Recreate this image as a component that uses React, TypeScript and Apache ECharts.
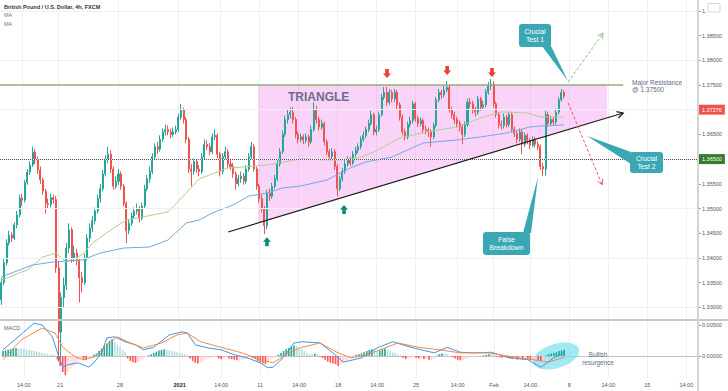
import { useEffect, useRef } from "react";
import * as echarts from "echarts";

// ---- price data (4h bars, GBP/USD) ----
const firstOpen = 1.3315;
const closes = [
  1.3350, 1.3390, 1.3430, 1.3446, 1.3440, 1.3467, 1.3487, 1.3521, 1.3517, 1.3552,
  1.3574, 1.3588, 1.3614, 1.3598, 1.3578, 1.3558, 1.3535, 1.3510, 1.3508, 1.3522,
  1.3518, 1.3380, 1.3250, 1.3320, 1.3345, 1.3420, 1.3457, 1.3400, 1.3410, 1.3395,
  1.3360, 1.3350, 1.3400, 1.3440, 1.3460, 1.3475, 1.3495, 1.3520, 1.3540, 1.3570,
  1.3600, 1.3610, 1.3580, 1.3545, 1.3555, 1.3570, 1.3545, 1.3510, 1.3455, 1.3470,
  1.3485, 1.3495, 1.3500, 1.3480, 1.3505, 1.3540, 1.3560, 1.3575, 1.3605, 1.3625,
  1.3620, 1.3640, 1.3655, 1.3660, 1.3655, 1.3650, 1.3655, 1.3660, 1.3685, 1.3700,
  1.3680, 1.3640, 1.3580, 1.3575, 1.3595, 1.3580, 1.3575, 1.3605, 1.3630, 1.3625,
  1.3615, 1.3645, 1.3648, 1.3610, 1.3575, 1.3605, 1.3615, 1.3590, 1.3585, 1.3570,
  1.3550, 1.3560, 1.3565, 1.3555, 1.3580, 1.3605, 1.3625, 1.3580, 1.3545, 1.3520,
  1.3500, 1.3465, 1.3530, 1.3525, 1.3545, 1.3560, 1.3590, 1.3615, 1.3650, 1.3680,
  1.3690, 1.3695, 1.3680, 1.3650, 1.3640, 1.3645, 1.3638, 1.3645, 1.3635, 1.3660,
  1.3700, 1.3680, 1.3665, 1.3672, 1.3635, 1.3615, 1.3605, 1.3615, 1.3585, 1.3540,
  1.3560, 1.3575, 1.3590, 1.3598, 1.3592, 1.3610, 1.3618, 1.3625, 1.3640, 1.3648,
  1.3660, 1.3672, 1.3690, 1.3655, 1.3660, 1.3690, 1.3725, 1.3735, 1.3715, 1.3735,
  1.3722, 1.3735, 1.3710, 1.3685, 1.3655, 1.3645, 1.3670, 1.3678, 1.3712, 1.3682,
  1.3672, 1.3678, 1.3660, 1.3658, 1.3655, 1.3645, 1.3668, 1.3720, 1.3735, 1.3730,
  1.3740, 1.3745, 1.3700, 1.3690, 1.3680, 1.3672, 1.3665, 1.3650, 1.3670, 1.3715,
  1.3712, 1.3700, 1.3695, 1.3722, 1.3705, 1.3710, 1.3735, 1.3748, 1.3752, 1.3712,
  1.3690, 1.3670, 1.3668, 1.3685, 1.3670, 1.3690, 1.3660, 1.3652, 1.3640, 1.3655,
  1.3630, 1.3648, 1.3638, 1.3628, 1.3640, 1.3630, 1.3625, 1.3585, 1.3580, 1.3690,
  1.3672, 1.3680, 1.3675, 1.3695, 1.3720, 1.3735, 1.37276,
];
const highs = [
  1.3360, 1.3400, 1.3438, 1.3455, 1.3452, 1.3472, 1.3495, 1.3528, 1.3530, 1.3558,
  1.3580, 1.3596, 1.3625, 1.3620, 1.3605, 1.3585, 1.3562, 1.3540, 1.3520, 1.3530,
  1.3528, 1.3525, 1.3392, 1.3330, 1.3360, 1.3430, 1.3470, 1.3462, 1.3425, 1.3418,
  1.3400, 1.3372, 1.3408, 1.3448, 1.3470, 1.3485, 1.3502, 1.3528, 1.3550, 1.3578,
  1.3608, 1.3625, 1.3618, 1.3585, 1.3565, 1.3580, 1.3575, 1.3550, 1.3515, 1.3478,
  1.3492, 1.3502, 1.3510, 1.3505, 1.3512, 1.3548, 1.3568, 1.3585, 1.3612, 1.3632,
  1.3635, 1.3648, 1.3662, 1.3670, 1.3668, 1.3662, 1.3664, 1.3668, 1.3692, 1.3712,
  1.3704, 1.3685, 1.3645, 1.3590, 1.3602, 1.3600, 1.3588, 1.3612, 1.3640, 1.3638,
  1.3632, 1.3652, 1.3660, 1.3652, 1.3615, 1.3612, 1.3625, 1.3620, 1.3598, 1.3592,
  1.3575, 1.3568, 1.3575, 1.3572, 1.3588, 1.3612, 1.3635, 1.3630, 1.3585, 1.3550,
  1.3528, 1.3505, 1.3538, 1.3540, 1.3552, 1.3568, 1.3598, 1.3622, 1.3658, 1.3688,
  1.3700, 1.3704, 1.3706, 1.3685, 1.3656, 1.3652, 1.3650, 1.3652, 1.3650, 1.3668,
  1.3715, 1.3708, 1.3686, 1.3680, 1.3676, 1.3640, 1.3620, 1.3622, 1.3620, 1.3590,
  1.3566, 1.3582, 1.3598, 1.3606, 1.3605, 1.3616, 1.3625, 1.3632, 1.3646, 1.3656,
  1.3666, 1.3680, 1.3698, 1.3694, 1.3668, 1.3696, 1.3732, 1.3746, 1.3746, 1.3742,
  1.3740, 1.3742, 1.3740, 1.3715, 1.3690, 1.3662, 1.3676, 1.3686, 1.3718, 1.3716,
  1.3688, 1.3685, 1.3682, 1.3668, 1.3664, 1.3660, 1.3674, 1.3726, 1.3742, 1.3740,
  1.3748, 1.3758, 1.3750, 1.3706, 1.3696, 1.3686, 1.3678, 1.3670, 1.3676, 1.3722,
  1.3724, 1.3718, 1.3706, 1.3728, 1.3726, 1.3718, 1.3742, 1.3756, 1.3762, 1.3758,
  1.3716, 1.3695, 1.3678, 1.3692, 1.3690, 1.3696, 1.3694, 1.3666, 1.3658, 1.3662,
  1.3660, 1.3654, 1.3652, 1.3642, 1.3646, 1.3645, 1.3636, 1.3630, 1.3592, 1.3698,
  1.3696, 1.3688, 1.3686, 1.3702, 1.3726, 1.3742, 1.3740,
];
const lows = [
  1.3305, 1.3345, 1.3385, 1.3425, 1.3432, 1.3436, 1.3460, 1.3482, 1.3505, 1.3512,
  1.3548, 1.3568, 1.3584, 1.3590, 1.3570, 1.3550, 1.3528, 1.3490, 1.3500, 1.3502,
  1.3510, 1.3370, 1.3190, 1.3200, 1.3300, 1.3335, 1.3410, 1.3390, 1.3392, 1.3385,
  1.3310, 1.3330, 1.3345, 1.3395, 1.3432, 1.3452, 1.3468, 1.3490, 1.3512, 1.3535,
  1.3565, 1.3592, 1.3572, 1.3538, 1.3540, 1.3548, 1.3538, 1.3505, 1.3430, 1.3448,
  1.3465, 1.3480, 1.3488, 1.3472, 1.3476, 1.3500, 1.3535, 1.3552, 1.3570, 1.3600,
  1.3610, 1.3615, 1.3635, 1.3648, 1.3648, 1.3642, 1.3645, 1.3650, 1.3655, 1.3680,
  1.3672, 1.3632, 1.3572, 1.3545, 1.3568, 1.3572, 1.3565, 1.3570, 1.3600, 1.3618,
  1.3608, 1.3610, 1.3638, 1.3602, 1.3565, 1.3570, 1.3598, 1.3582, 1.3578, 1.3562,
  1.3538, 1.3545, 1.3552, 1.3548, 1.3550, 1.3575, 1.3600, 1.3575, 1.3538, 1.3512,
  1.3492, 1.3448, 1.3458, 1.3515, 1.3520, 1.3540, 1.3555, 1.3585, 1.3610, 1.3645,
  1.3672, 1.3682, 1.3672, 1.3642, 1.3632, 1.3634, 1.3630, 1.3632, 1.3625, 1.3630,
  1.3655, 1.3672, 1.3658, 1.3660, 1.3628, 1.3608, 1.3598, 1.3600, 1.3578, 1.3525,
  1.3535, 1.3555, 1.3570, 1.3585, 1.3586, 1.3588, 1.3604, 1.3612, 1.3620, 1.3635,
  1.3642, 1.3655, 1.3668, 1.3648, 1.3648, 1.3655, 1.3686, 1.3720, 1.3708, 1.3710,
  1.3715, 1.3716, 1.3702, 1.3678, 1.3648, 1.3638, 1.3640, 1.3664, 1.3672, 1.3676,
  1.3665, 1.3666, 1.3652, 1.3650, 1.3645, 1.3625, 1.3640, 1.3664, 1.3715, 1.3722,
  1.3725, 1.3735, 1.3694, 1.3682, 1.3672, 1.3664, 1.3656, 1.3630, 1.3645, 1.3665,
  1.3704, 1.3692, 1.3686, 1.3690, 1.3698, 1.3700, 1.3705, 1.3730, 1.3740, 1.3705,
  1.3684, 1.3662, 1.3660, 1.3662, 1.3664, 1.3665, 1.3654, 1.3645, 1.3632, 1.3635,
  1.3610, 1.3625, 1.3630, 1.3620, 1.3624, 1.3624, 1.3618, 1.3578, 1.3566, 1.3566,
  1.3665, 1.3668, 1.3668, 1.3670, 1.3690, 1.3716, 1.3722,
];
const lastPrice = 1.37276;
const resistanceLevel = 1.375;
const supportLevel = 1.365;

// ---- moving averages, read at points along the lines [bar, price] ----
const maFast: [number, number][] = [
  [0, 1.33553], [10, 1.33756], [16, 1.34019], [21, 1.341], [25, 1.33918], [31, 1.34059],
  [35, 1.34302], [42, 1.34565], [48, 1.34768], [54, 1.34828], [64, 1.3493], [71, 1.35314],
  [76, 1.35598], [87, 1.3582], [93, 1.3584], [102, 1.35881], [115, 1.36002], [125, 1.35982],
  [130, 1.35982], [137, 1.36022], [143, 1.36144], [153, 1.36427], [163, 1.36549],
  [175, 1.3665], [185, 1.36852], [192, 1.36954], [202, 1.36933], [207, 1.36852], [216, 1.36852],
];
const maSlow: [number, number][] = [
  [0, 1.33614], [12, 1.33857], [20, 1.33918], [31, 1.33958], [38, 1.341], [47, 1.34201],
  [57, 1.34221], [64, 1.34363], [71, 1.34707], [76, 1.34768], [81, 1.34909], [89, 1.35071],
  [95, 1.35253], [102, 1.35314], [108, 1.35415], [115, 1.35456], [125, 1.35577],
  [134, 1.3582], [140, 1.35942], [150, 1.36043], [162, 1.36326], [175, 1.36387],
  [184, 1.36448], [194, 1.36528], [203, 1.3665], [207, 1.3667], [216, 1.3669],
];

// ---- MACD panel ----
const macdLine: [number, number][] = [
  [0, 0.001], [12, 0.0053], [15, 0.005], [19, 0.0031], [21, 0.0005], [23, -0.0018], [25, -0.0014],
  [29, -0.0011], [33, -0.0018], [35, -0.0011], [38, 0.0006], [40, 0.0029], [43, 0.0031],
  [47, 0.0023], [51, 0.0018], [54, 0.001], [58, 0.0014], [64, 0.0034], [69, 0.0039], [71, 0.0037],
  [74, 0.0018], [79, 0.0013], [84, 0.001], [89, 0.0002], [94, -0.0003], [99, -0.0011],
  [102, -0.0019], [104, -0.0018], [108, -0.0002], [112, 0.0021], [115, 0.0023], [122, 0.0021],
  [127, 0.0005], [131, -0.001], [138, -0.0003], [144, 0.0013], [150, 0.0023], [157, 0.0014],
  [166, 0.0005], [171, 0.0014], [176, 0.0006], [181, 0.0005], [188, 0.0006], [194, -0.0002],
  [202, -0.0006], [207, -0.0018], [212, -0.0003], [216, 0.0006],
];
const signalLine: [number, number][] = [
  [0, -0.0006], [7, 0.0026], [15, 0.0045], [20, 0.0037], [23, 0.0014], [28, -0.0002], [31, -0.0006],
  [35, -0.0002], [40, 0.0018], [44, 0.0031], [48, 0.0023], [54, 0.0013], [61, 0.0021], [67, 0.0034],
  [71, 0.0037], [76, 0.0023], [84, 0.0014], [92, 0.0005], [99, -0.0006], [104, -0.0011],
  [110, 0.0005], [115, 0.0014], [122, 0.0021], [129, 0.0005], [134, -0.0003], [140, 0.0002],
  [147, 0.0013], [152, 0.0021], [160, 0.0014], [168, 0.001], [176, 0.0005], [187, 0.0005],
  [197, -0.0002], [204, -0.0006], [210, -0.001], [216, -0.0002],
];
const histogram = [
  0.0008, 0.0009, 0.0010, 0.0011, 0.0012, 0.0013,
  0.0012, 0.0012, 0.0011, 0.0011, 0.0010, 0.0009, 0.0008, 0.0007, 0.0006, 0.0005, 0.0004,
  0.0003, 0.0002, 0.0002, 0.0001,
  -0.0006, -0.0016, -0.0026, -0.0031,
  -0.0025, -0.0020, -0.0016, -0.0012, -0.0008, -0.0004, -0.0006, -0.0007, -0.0004, -0.0001, 0.0002,
  0.0004, 0.0008, 0.0012, 0.0016, 0.0020, 0.0024, 0.0027,
  0.0022, 0.0018, 0.0014, 0.0010, 0.0006,
  -0.0004, -0.0008, -0.0010, -0.0011, -0.0010, -0.0008,
  -0.0005, -0.0002, 0.0001,
  0.0003, 0.0005, 0.0007, 0.0009, 0.0010, 0.0011,
  0.0010, 0.0009, 0.0008, 0.0007, 0.0006, 0.0005, 0.0004, 0.0003, 0.0001,
  -0.0004, -0.0008, -0.0011, -0.0012, -0.0011, -0.0009,
  -0.0006, -0.0004, -0.0003, -0.0002, -0.0002, -0.0004,
  -0.0005, -0.0004, -0.0003,
  -0.0004, -0.0005, -0.0006, -0.0007, -0.0007,
  -0.0006, -0.0005, -0.0004, -0.0002,
  -0.0003, -0.0005, -0.0008, -0.0010, -0.0012, -0.0013,
  -0.0010, -0.0006, -0.0003, -0.0001,
  0.0002, 0.0005, 0.0008, 0.0011, 0.0013, 0.0015, 0.0017, 0.0016, 0.0014,
  0.0011, 0.0008, 0.0005, 0.0003, 0.0003, 0.0004, 0.0003,
  -0.0001, -0.0003, -0.0006, -0.0009, -0.0011, -0.0012, -0.0013, -0.0016, -0.0014,
  -0.0011, -0.0008, -0.0006, -0.0004, -0.0002,
  0.0002, 0.0003, 0.0004, 0.0006, 0.0008, 0.0010, 0.0011, 0.0009, 0.0008, 0.0009, 0.0011, 0.0012, 0.0010,
  0.0008, 0.0006, 0.0005, 0.0003, 0.0001,
  -0.0003, -0.0005, -0.0004, -0.0003,
  -0.0002, -0.0003, -0.0004, -0.0004, -0.0005, -0.0005, -0.0006, -0.0006, -0.0004,
  0.0001, 0.0003, 0.0004, 0.0004, 0.0003, 0.0001,
  -0.0002, -0.0004, -0.0006, -0.0007, -0.0007,
  -0.0005, -0.0003, -0.0002, -0.0002, -0.0001, -0.0001, 0.0000,
  0.0001, 0.0002, 0.0003, 0.0003, 0.0002,
  -0.0001, -0.0002, -0.0003, -0.0002,
  -0.0003, -0.0004, -0.0005, -0.0005, -0.0006,
  -0.0005, -0.0006, -0.0005, -0.0006, -0.0007, -0.0006, -0.0006, -0.0007, -0.0008, -0.0008,
  0.0001, 0.0003, 0.0004, 0.0005, 0.0006, 0.0008, 0.0009, 0.0010,
];

// ---- axes ----
const slotCount = 268;
const xTickLabels: [number, string][] = [
  [8, "14:00"], [22, "21"], [45, "28"], [68, "2021"], [84, "14:00"], [99, "11"],
  [114, "14:00"], [129, "18"], [144, "14:00"], [159, "25"], [175, "14:00"], [189, "Feb"],
  [203, "14:00"], [218, "8"], [233, "14:00"], [248, "15"], [263, "14:00"],
];
const priceTicks = [1.33, 1.335, 1.34, 1.345, 1.35, 1.355, 1.36, 1.365, 1.37, 1.375, 1.38, 1.385, 1.39];
const macdTicks = [0, 0.005];
const topTickShown = "1."; // the 1.39000 label is mostly hidden behind the currency badge

// ---- drawings, in data coordinates [bar, price] ----
const trendLine = { from: [87.1, 1.34525], to: [238.8, 1.36933] };
const triangleSpan = [98.6, 232.6];
const resistanceEnd = 238.8;
const topMarkers = [[148.1, 1.3764], [171.2, 1.377], [188.4, 1.3766]];
const bottomMarkers = [[102, 1.3442], [131.6, 1.3507]];
const bullPath = [[217.6, 1.3756], [231.1, 1.3855]];
const bearPath = [[217.6, 1.3714], [230.7, 1.3548]];

const FONT = "Liberation Sans";

export default function App() {
  const ref = useRef<HTMLDivElement>(null);
  useEffect(() => {
    if (!ref.current) return;
    const chart = echarts.init(ref.current, undefined, { renderer: "svg" });
    const slots = Array.from({ length: slotCount }, (_, i) => String(i));
    const labelMap = new Map(xTickLabels);
    const candles = closes.map((c, i) => [i === 0 ? firstOpen : closes[i - 1], c, lows[i], highs[i]]);
    const gridSplit = {
      show: true,
      alignWithLabel: true,
      interval: (i: number) => labelMap.has(i),
      lineStyle: { color: "#eef0f4", width: 1 },
    };

    const option: any = {
      animation: false,
      textStyle: { fontFamily: FONT },
      grid: [
        { left: 0, top: 0, width: 698, height: 319 },
        { left: 0, top: 321, width: 698, height: 57 },
      ],
      xAxis: [
        {
          type: "category", gridIndex: 0, data: slots, boundaryGap: true,
          axisLine: { show: false }, axisTick: { show: false }, axisLabel: { show: false },
          splitLine: gridSplit,
        },
        {
          type: "category", gridIndex: 1, data: slots, boundaryGap: true,
          axisLine: { show: true, lineStyle: { color: "#c4c4c4", width: 1 } },
          axisTick: { show: false },
          axisLabel: {
            show: true, interval: 0, margin: 4, fontSize: 5.5, color: "#555",
            formatter: (_v: string, i: number) => {
              const s = labelMap.get(i);
              if (!s) return "";
              return s === "2021" ? "{b|2021}" : s;
            },
            rich: { b: { fontWeight: "bold", color: "#222", fontSize: 5.5 } },
          },
          splitLine: gridSplit,
        },
      ],
      yAxis: [
        {
          type: "value", gridIndex: 0, position: "right", min: 1.32764, max: 1.3922,
          axisLine: { show: false },
          axisTick: { show: true, customValues: priceTicks, length: 3, lineStyle: { color: "#999" } },
          axisLabel: {
            customValues: priceTicks,
            formatter: (v: number) => (v > 1.3899 ? topTickShown : v.toFixed(5)),
            fontSize: 5.5, color: "#555", margin: 4,
          },
          splitLine: { show: false },
        },
        {
          type: "value", gridIndex: 1, position: "right", min: -0.003548, max: 0.005645,
          axisLine: { show: false },
          axisTick: { show: true, customValues: macdTicks, length: 3, lineStyle: { color: "#999" } },
          axisLabel: { customValues: macdTicks, formatter: (v: number) => v.toFixed(5), fontSize: 5.5, color: "#555", margin: 4 },
          splitLine: { show: false },
        },
      ],
      series: [
        {
          type: "line", xAxisIndex: 0, yAxisIndex: 0, data: [], z: 0, silent: true,
          markLine: {
            silent: true, symbol: ["none", "none"], label: { show: false },
            lineStyle: { color: "#eef0f4", type: "solid", width: 1 },
            data: priceTicks.map((v) => ({ yAxis: v })),
          },
        },
        {
          type: "candlestick", xAxisIndex: 0, yAxisIndex: 0, data: candles, barWidth: "58%",
          itemStyle: { color: "#26a69a", color0: "#ef5350", borderColor: "#26a69a", borderColor0: "#ef5350", borderWidth: 1 },
          markLine: {
            silent: true, symbol: ["none", "none"],
            data: [
              {
                yAxis: supportLevel,
                lineStyle: { color: "#555", type: "dotted", width: 1 },
                label: {
                  show: true, position: "end", distance: 1, formatter: supportLevel.toFixed(5),
                  backgroundColor: "#367c2b", color: "#fff", fontSize: 5.5, padding: [2, 3],
                },
              },
            ],
          },
        },
        {
          type: "line", xAxisIndex: 0, yAxisIndex: 0, data: [], silent: true,
          markLine: {
            silent: true, symbol: ["none", "none"],
            data: [
              {
                yAxis: lastPrice,
                lineStyle: { color: "rgba(0,0,0,0)", width: 1 },
                label: {
                  show: true, position: "end", distance: 1, formatter: lastPrice.toFixed(5),
                  backgroundColor: "#ef5350", color: "#fff", fontSize: 5.5, padding: [2, 3],
                },
              },
            ],
          },
        },
        {
          type: "line", xAxisIndex: 0, yAxisIndex: 0, data: maFast, showSymbol: false, silent: true,
          lineStyle: { color: "#b3cf8e", width: 1 }, z: 3,
        },
        {
          type: "line", xAxisIndex: 0, yAxisIndex: 0, data: maSlow, showSymbol: false, silent: true,
          lineStyle: { color: "#72a9e0", width: 1 }, z: 3,
        },
        {
          type: "bar", xAxisIndex: 1, yAxisIndex: 1, data: histogram, barWidth: "62%", silent: true,
          itemStyle: {
            color: (p: any) => {
              const i = p.dataIndex;
              const v = histogram[i];
              const prev = i > 0 ? histogram[i - 1] : 0;
              if (v >= 0) return v > prev ? "#26a69a" : "#b2dfdb";
              return v < prev ? "#ff5252" : "#ffcdd2";
            },
          },
        },
        {
          type: "line", xAxisIndex: 1, yAxisIndex: 1, data: macdLine, showSymbol: false, silent: true,
          lineStyle: { color: "#3d95e6", width: 1 }, z: 3,
        },
        {
          type: "line", xAxisIndex: 1, yAxisIndex: 1, data: signalLine, showSymbol: false, silent: true,
          lineStyle: { color: "#f28a46", width: 1 }, z: 3,
        },
      ],
    };
    chart.setOption(option);

    // pixel helpers from the library's scales
    const p0 = chart.convertToPixel({ gridIndex: 0 }, [0, resistanceLevel]) as number[];
    const p1 = chart.convertToPixel({ gridIndex: 0 }, [100, resistanceLevel]) as number[];
    const step = (p1[0] - p0[0]) / 100;
    const X = (i: number) => p0[0] + i * step;
    const Y = (v: number) => chart.convertToPixel({ yAxisIndex: 0 }, v) as number;
    const YM = (v: number) => chart.convertToPixel({ yAxisIndex: 1 }, v) as number;
    const tAt = (i: number) =>
      trendLine.from[1] + ((i - trendLine.from[0]) * (trendLine.to[1] - trendLine.from[1])) / (trendLine.to[0] - trendLine.from[0]);

    const els: any[] = [];
    const txt = (t: string, x: number, y: number, o: any = {}) => ({
      type: "text", x, y, z: 40, silent: true,
      style: {
        text: t, fill: o.fill || "#5f6b85", fontSize: o.size || 6.5, fontFamily: FONT,
        fontWeight: o.weight || "normal", align: o.align || "left", verticalAlign: "middle",
      },
    });
    const head = (x1: number, y1: number, x2: number, y2: number, len: number, color: string, w: number) => {
      const a = Math.atan2(y2 - y1, x2 - x1);
      const s = 0.5;
      return {
        type: "polyline", z: 30, silent: true,
        shape: { points: [[x2 - len * Math.cos(a - s), y2 - len * Math.sin(a - s)], [x2, y2], [x2 - len * Math.cos(a + s), y2 - len * Math.sin(a + s)]] },
        style: { stroke: color, lineWidth: w, fill: "none" },
      };
    };

    // triangle zone
    const L = triangleSpan[0], R = triangleSpan[1];
    els.push({
      type: "polygon", z: 1, silent: true,
      shape: { points: [[X(L), Y(resistanceLevel)], [X(R), Y(resistanceLevel)], [X(R), Y(tAt(R))], [X(L), Y(tAt(L))]] },
      style: { fill: "rgba(240, 110, 235, 0.3)" },
    });
    // resistance line
    els.push({
      type: "line", z: 5, silent: true,
      shape: { x1: 0, y1: Y(resistanceLevel), x2: X(resistanceEnd), y2: Y(resistanceLevel) },
      style: { stroke: "#93ad78", lineWidth: 1.6 },
    });
    // trend line
    const tx1 = X(trendLine.from[0]), ty1 = Y(trendLine.from[1]);
    const tx2 = X(trendLine.to[0]), ty2 = Y(trendLine.to[1]);
    els.push({ type: "line", z: 30, silent: true, shape: { x1: tx1, y1: ty1, x2: tx2, y2: ty2 }, style: { stroke: "#1c1c1c", lineWidth: 1.2 } });
    els.push(head(tx1, ty1, tx2, ty2, 7, "#1c1c1c", 1.2));
    // scenario paths
    const paths: [number[][], string][] = [[bullPath, "#8cc07a"], [bearPath, "#ef5a6a"]];
    paths.forEach(([pp, c]) => {
      const a1 = X(pp[0][0]), b1 = Y(pp[0][1]), a2 = X(pp[1][0]), b2 = Y(pp[1][1]);
      els.push({ type: "line", z: 30, silent: true, shape: { x1: a1, y1: b1, x2: a2, y2: b2 }, style: { stroke: c, lineWidth: 1, lineDash: [3, 2] } });
      els.push(head(a1, b1, a2, b2, 6, c, 1));
    });
    // block arrows
    topMarkers.forEach(([i, v]) => {
      const x = X(i), y = Y(v);
      els.push({
        type: "polygon", z: 30, silent: true,
        shape: { points: [[x - 1.8, y - 9], [x + 1.8, y - 9], [x + 1.8, y - 4.5], [x + 4, y - 4.5], [x, y], [x - 4, y - 4.5], [x - 1.8, y - 4.5]] },
        style: { fill: "#e8403a" },
      });
    });
    bottomMarkers.forEach(([i, v]) => {
      const x = X(i), y = Y(v);
      els.push({
        type: "polygon", z: 30, silent: true,
        shape: { points: [[x - 1.8, y + 9], [x + 1.8, y + 9], [x + 1.8, y + 4.5], [x + 4, y + 4.5], [x, y], [x - 4, y + 4.5], [x - 1.8, y + 4.5]] },
        style: { fill: "#0f8c76" },
      });
    });
    // callouts
    const callouts: { lines: string[]; box: number[]; tail: number[][] }[] = [
      { lines: ["Crucial", "Test 1"], box: [519, 24, 32, 23], tail: [[542, 46], [551, 46], [568, 81]] },
      { lines: ["Crucial", "Test 2"], box: [630, 152, 33, 21], tail: [[631, 152], [631, 164], [587, 136]] },
      { lines: ["False", "Breakdown"], box: [483, 232, 47, 23], tail: [[523, 233], [531, 233], [538, 177]] },
    ];
    callouts.forEach((c) => {
      const [bx, by, bw, bh] = c.box;
      els.push({ type: "polygon", z: 35, silent: true, shape: { points: c.tail }, style: { fill: "#3aa7b5" } });
      els.push({ type: "rect", z: 35, silent: true, shape: { x: bx, y: by, width: bw, height: bh, r: 3 }, style: { fill: "#3aa7b5" } });
      els.push(txt(c.lines[0], bx + bw / 2, by + bh / 2 - 3.6, { fill: "#fff", size: 6.8, align: "center" }));
      els.push(txt(c.lines[1], bx + bw / 2, by + bh / 2 + 3.6, { fill: "#fff", size: 6.8, align: "center" }));
    });
    // MACD highlight
    els.push({
      type: "ellipse", z: 1, silent: true, x: X(213), y: YM(0), rotation: 0.3,
      shape: { cx: 0, cy: 0, rx: 24, ry: 12 },
      style: { fill: "rgba(110, 222, 236, 0.65)" },
    });
    // texts
    els.push(txt("TRIANGLE", 288, 97, { size: 12, weight: "bold", fill: "#6c6f86" }));
    els.push(txt("Major Resistance", 632, 82.5, { size: 6.5 }));
    els.push(txt("@ 1.37500", 632, 89.5, { size: 6.5 }));
    els.push(txt("Bullish", 598, 354.5, { size: 6.3, align: "center" }));
    els.push(txt("resurgence", 598, 362.5, { size: 6.3, align: "center" }));
    els.push(txt("British Pound / U.S. Dollar, 4h, FXCM", 4, 7, { size: 5.5, weight: "bold", fill: "#333" }));
    els.push(txt("MA", 4, 15, { size: 5.5, fill: "#777" }));
    els.push(txt("MA", 4, 24, { size: 5.5, fill: "#777" }));
    els.push(txt("MACD", 4, 327.5, { size: 5.5, fill: "#666" }));
    // frame lines
    els.push({ type: "rect", z: 50, silent: true, shape: { x: 0, y: 319, width: 728, height: 2 }, style: { fill: "#c8c8c8" } });
    els.push({ type: "rect", z: 50, silent: true, shape: { x: 697, y: 0, width: 2, height: 391 }, style: { fill: "#d4d4d4" } });
    // currency badge
    els.push({ type: "rect", z: 60, silent: true, shape: { x: 708, y: 3.5, width: 12, height: 8.5, r: 1 }, style: { fill: "#fff", stroke: "#bbb", lineWidth: 0.6 } });
    els.push(txt("USD", 714, 7.8, { size: 4.8, fill: "#666", align: "center" }));

    chart.setOption({ graphic: els });
    return () => chart.dispose();
  }, []);
  return <div ref={ref} style={{ position: "fixed", left: 0, top: 0, width: 728, height: 391, background: "#fff" }} />;
}
